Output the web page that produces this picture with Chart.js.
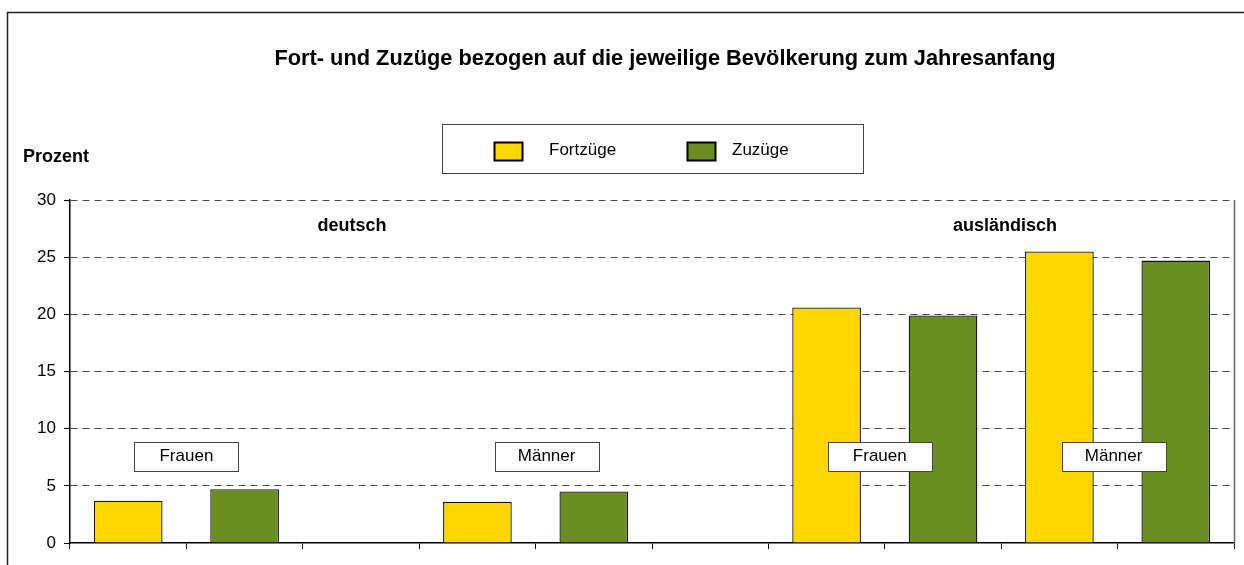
<!DOCTYPE html>
<html>
<head>
<meta charset="utf-8">
<script src="https://cdn.jsdelivr.net/npm/chart.js@4/dist/chart.umd.min.js"></script>
<style>
html,body{margin:0;padding:0;background:#fff;}
#wrap{width:1244px;height:565px;position:relative;}
</style>
</head>
<body>
<div id="wrap"><canvas id="c" width="1244" height="565"></canvas></div>
<script>
const FONT = '"Liberation Sans Narrow", "Arial Narrow", "Liberation Sans", Arial, sans-serif';

// categories: 10 slots (deutsch Frauen, deutsch Männer, ausländisch Frauen, ausländisch Männer)
const categories = ['dF-Fort','dF-Zu','','dM-Fort','dM-Zu','','aF-Fort','aF-Zu','aM-Fort','aM-Zu'];
const fortzuege = [3.7, null, null, 3.6, null, null, 20.6, null, 25.5, null];
const zuzuege   = [null, 4.7, null, null, 4.5, null, null, 19.9, null, 24.7];
const yTicks = [0, 5, 10, 15, 20, 25, 30];
const seriesNames = ['Fortzüge', 'Zuzüge'];
const seriesColors = ['#FFD700', '#6B8E23'];
const titleText = 'Fort- und Zuzüge bezogen auf die jeweilige Bevölkerung zum Jahresanfang';
const yTitle = 'Prozent';
const groupLabels = ['deutsch', 'ausländisch'];
const sexLabels = ['Frauen', 'Männer', 'Frauen', 'Männer'];

const deco = {
  id: 'deco',
  afterDraw(chart) {
    const ctx = chart.ctx, a = chart.chartArea;
    const x = chart.scales.x, y = chart.scales.y;
    ctx.save();
    // outer frame
    ctx.strokeStyle = '#222'; ctx.lineWidth = 1.5;
    ctx.beginPath(); ctx.moveTo(7.5, 600); ctx.lineTo(7.5, 12.5); ctx.lineTo(1300, 12.5); ctx.stroke();
    // right border of plot area
    ctx.strokeStyle = '#666'; ctx.lineWidth = 1.5;
    ctx.beginPath(); ctx.moveTo(a.right + 0.5, a.top); ctx.lineTo(a.right + 0.5, a.bottom); ctx.stroke();
    // title
    ctx.fillStyle = '#000';
    ctx.textAlign = 'center'; ctx.textBaseline = 'middle';
    ctx.font = 'bold 21.8px ' + FONT;
    ctx.fillText(titleText, 665, 59);
    // y title
    ctx.textAlign = 'left';
    ctx.font = 'bold 18px ' + FONT;
    ctx.fillText(yTitle, 23, 157);
    // legend
    ctx.strokeStyle = '#444'; ctx.lineWidth = 1;
    ctx.fillStyle = '#fff';
    ctx.fillRect(442.5, 124.5, 421, 49);
    ctx.strokeRect(442.5, 124.5, 421, 49);
    const lx = [494, 687], tx = [549, 732];
    ctx.font = '17px ' + FONT;
    for (let i = 0; i < 2; i++) {
      ctx.fillStyle = seriesColors[i];
      ctx.fillRect(lx[i] + 0.5, 142.5, 28, 18);
      ctx.strokeStyle = '#000'; ctx.lineWidth = 2;
      ctx.strokeRect(lx[i] + 0.5, 142.5, 28, 18);
      ctx.fillStyle = '#000';
      ctx.textAlign = 'left';
      ctx.fillText(seriesNames[i], tx[i], 150);
    }
    // group labels
    ctx.textAlign = 'center';
    ctx.font = 'bold 18px ' + FONT;
    const gx = [352, 1005];
    groupLabels.forEach((t, i) => ctx.fillText(t, gx[i], y.getPixelForValue(27.7)));
    // sex label boxes
    ctx.font = '17px ' + FONT;
    const centers = [1, 4, 7, 9];
    const shifts = [0, 11, -5, -4];
    sexLabels.forEach((t, i) => {
      const cx = (x.getPixelForValue(centers[i] - 1) + x.getPixelForValue(centers[i])) / 2 + shifts[i];
      const cy = y.getPixelForValue(7.65);
      ctx.fillStyle = '#fff';
      ctx.fillRect(Math.round(cx - 52) + 0.5, Math.round(cy - 14) + 0.5, 104, 29);
      ctx.strokeStyle = '#444'; ctx.lineWidth = 1;
      ctx.strokeRect(Math.round(cx - 52) + 0.5, Math.round(cy - 14) + 0.5, 104, 29);
      ctx.fillStyle = '#000';
      ctx.fillText(t, cx, cy + 1);
    });
    ctx.restore();
  }
};

new Chart(document.getElementById('c'), {
  type: 'bar',
  data: {
    labels: categories,
    datasets: [
      { label: seriesNames[0], data: fortzuege, backgroundColor: seriesColors[0], borderColor: '#111', borderWidth: 1.3, grouped: false, barPercentage: 0.59, categoryPercentage: 1 },
      { label: seriesNames[1], data: zuzuege, backgroundColor: seriesColors[1], borderColor: '#111', borderWidth: 1.3, grouped: false, barPercentage: 0.59, categoryPercentage: 1 }
    ]
  },
  options: {
    responsive: false,
    animation: false,
    layout: { padding: { left: 0, right: 10, top: 200, bottom: 0 } },
    plugins: { legend: { display: false }, tooltip: { enabled: false }, title: { display: false } },
    scales: {
      x: {
        offset: true,
        ticks: { display: false },
        grid: { display: true, drawOnChartArea: false, drawTicks: true, tickLength: 6, color: '#000', offset: true },
        border: { display: true, color: '#000', width: 1.5 },
        afterFit(s) { s.height = 22; }
      },
      y: {
        min: 0, max: 30,
        afterBuildTicks(s) { s.ticks = yTicks.map(v => ({ value: v })); },
        ticks: { color: '#000', font: { family: FONT, size: 17 }, padding: 8 },
        grid: {
          color: (c) => c.tick && c.tick.value === 0 ? 'rgba(0,0,0,0)' : '#4d4d4d',
          lineWidth: 1,
          tickColor: '#000', tickBorderDash: [], tickLength: 6, drawTicks: true
        },
        border: { display: true, color: '#000', width: 1.5, dash: [7, 5] },
        afterFit(s) { s.width = 70; }
      }
    }
  },
  plugins: [deco]
});
</script>
</body>
</html>
